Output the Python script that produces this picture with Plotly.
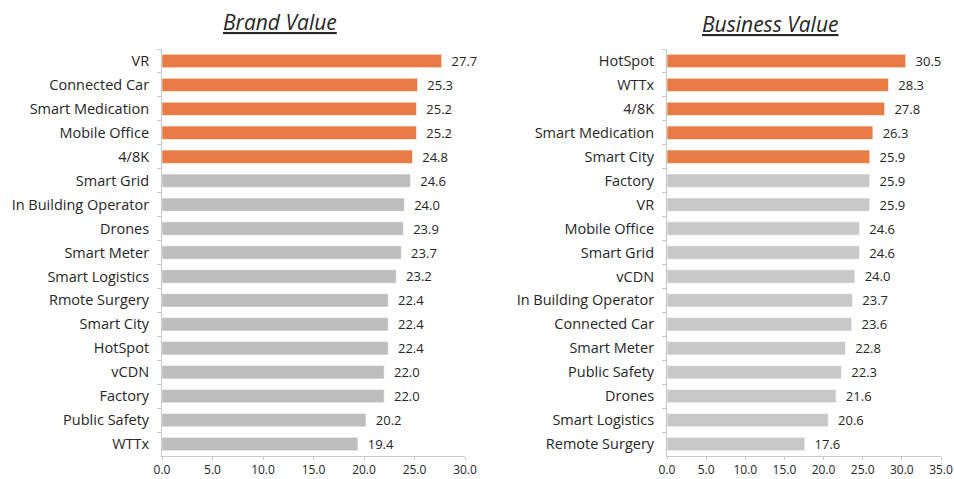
import plotly.graph_objects as go

brand_cats = ["VR", "Connected Car", "Smart Medication", "Mobile Office", "4/8K", "Smart Grid",
              "In Building Operator", "Drones", "Smart Meter", "Smart Logistics", "Rmote Surgery",
              "Smart City", "HotSpot", "vCDN", "Factory", "Public Safety", "WTTx"]
brand_vals = [27.7, 25.3, 25.2, 25.2, 24.8, 24.6, 24.0, 23.9, 23.7, 23.2, 22.4, 22.4, 22.4, 22.0, 22.0, 20.2, 19.4]

biz_cats = ["HotSpot", "WTTx", "4/8K", "Smart Medication", "Smart City", "Factory", "VR",
            "Mobile Office", "Smart Grid", "vCDN", "In Building Operator", "Connected Car",
            "Smart Meter", "Public Safety", "Drones", "Smart Logistics", "Remote Surgery"]
biz_vals = [30.5, 28.3, 27.8, 26.3, 25.9, 25.9, 25.9, 24.6, 24.6, 24.0, 23.7, 23.6, 22.8, 22.3, 21.6, 20.6, 17.6]

x_ticks_left = [0, 5, 10, 15, 20, 25, 30]
x_ticks_right = [0, 5, 10, 15, 20, 25, 30, 35]
n_highlight = 5

ORANGE = "#E97B45"
GRAY_L = "#BDBDBD"
GRAY_R = "#C8C8C8"
TEXT = "#262626"
AXIS = "#C8C8C8"
FONT = "Open Sans"
PAD = "\u00a0\u00a0"

def colors(n, gray):
    return [ORANGE if i < n_highlight else gray for i in range(n)]

fig = go.Figure()
fig.add_trace(go.Bar(
    x=brand_vals, y=brand_cats, orientation="h", xaxis="x", yaxis="y",
    marker=dict(color=colors(len(brand_vals), GRAY_L), line=dict(color="rgba(255,255,255,0.6)", width=1)),
    width=0.56, text=[PAD + f"{v:.1f}" for v in brand_vals], textposition="outside", constraintext="none",
    textfont=dict(size=13, color=TEXT, family=FONT), cliponaxis=False, showlegend=False,
))
fig.add_trace(go.Bar(
    x=biz_vals, y=biz_cats, orientation="h", xaxis="x2", yaxis="y2",
    marker=dict(color=colors(len(biz_vals), GRAY_R), line=dict(color="rgba(255,255,255,0.6)", width=1)),
    width=0.56, text=[PAD + f"{v:.1f}" for v in biz_vals], textposition="outside", constraintext="none",
    textfont=dict(size=13, color=TEXT, family=FONT), cliponaxis=False, showlegend=False,
))

ydom = [(479 - 456) / 479, (479 - 49) / 479]
xcommon = dict(showgrid=False, zeroline=False, showline=True, linecolor=AXIS, linewidth=1,
               ticks="outside", ticklen=3, tickcolor=AXIS, tickformat=".1f", automargin=False,
               tickfont=dict(size=12, color=TEXT, family=FONT), ticklabelstandoff=0, fixedrange=True)
ycommon = dict(showgrid=False, zeroline=False, showline=True, linecolor=AXIS, linewidth=1,
               ticks="outside", ticklen=4, tickcolor=AXIS, tickson="boundaries", automargin=False,
               autorange="reversed", type="category", domain=ydom,
               tickfont=dict(size=14.5, color=TEXT, family=FONT), ticklabelstandoff=9, fixedrange=True)

fig.update_layout(
    width=954, height=479, margin=dict(l=0, r=0, t=0, b=0, autoexpand=False),
    paper_bgcolor="white", plot_bgcolor="white", bargap=0.44,
    font=dict(family=FONT, color=TEXT),
    xaxis=dict(domain=[162 / 954, 465 / 954], range=[0, 30], tickvals=x_ticks_left, anchor="y", **xcommon),
    yaxis=dict(anchor="x", **ycommon),
    xaxis2=dict(domain=[667 / 954, 941 / 954], range=[0, 35], tickvals=x_ticks_right, anchor="y2", **xcommon),
    yaxis2=dict(anchor="x2", **ycommon),
    annotations=[
        dict(text="<i><u>Brand Value</u></i>", x=280 / 954, y=1 - 22 / 479, xref="paper", yref="paper",
             showarrow=False, font=dict(size=21, color=TEXT, family=FONT), xanchor="center", yanchor="middle"),
        dict(text="<i><u>Business Value</u></i>", x=770 / 954, y=1 - 24 / 479, xref="paper", yref="paper",
             showarrow=False, font=dict(size=21, color=TEXT, family=FONT), xanchor="center", yanchor="middle"),
    ],
)

fig.write_html("out.html")
